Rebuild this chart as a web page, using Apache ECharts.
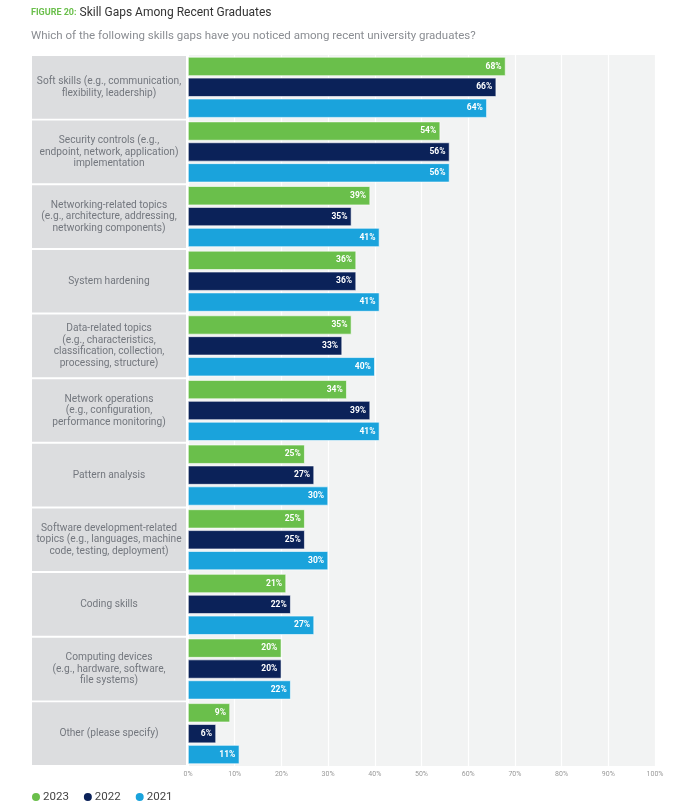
<!DOCTYPE html>
<html>
<head>
<meta charset="utf-8">
<script src="https://cdn.jsdelivr.net/npm/echarts@6/dist/echarts.min.js"></script>
<style>
  html, body { margin: 0; padding: 0; background: #fff; }
  #main { width: 684px; height: 807px; }
</style>
</head>
<body>
<div id="main"></div>
<script>
// 数据
var categories = [
  'Soft skills (e.g., communication,\nflexibility, leadership)',
  'Security controls (e.g.,\nendpoint, network, application)\nimplementation',
  'Networking-related topics\n(e.g., architecture, addressing,\nnetworking components)',
  'System hardening',
  'Data-related topics\n(e.g., characteristics,\nclassification, collection,\nprocessing, structure)',
  'Network operations\n(e.g., configuration,\nperformance monitoring)',
  'Pattern analysis',
  'Software development-related\ntopics (e.g., languages, machine\ncode, testing, deployment)',
  'Coding skills',
  'Computing devices\n(e.g., hardware, software,\nfile systems)',
  'Other (please specify)'
];
var years = ['2023', '2022', '2021'];
var values2023 = [68, 54, 39, 36, 35, 34, 25, 25, 21, 20, 9];
var values2022 = [66, 56, 35, 36, 33, 39, 27, 25, 22, 20, 6];
var values2021 = [64, 56, 41, 41, 40, 41, 30, 30, 27, 22, 11];
var colors = ['#6abf4b', '#0b2259', '#1aa3dc'];

var myChart = echarts.init(document.getElementById('main'));

// 灰色标签列用一个占位柱
var labelFill = categories.map(function () { return 1; });

function yearSeries(name, data, color) {
  return {
    name: name,
    type: 'bar',
    xAxisIndex: 0,
    yAxisIndex: 0,
    data: data,
    barGap: '10%',
    barCategoryGap: '6%',
    itemStyle: { color: color, borderColor: '#ffffff', borderWidth: 0.6 },
    label: {
      show: true,
      position: 'insideRight',
      distance: 4,
      formatter: '{c}%',
      color: '#ffffff',
      fontFamily: 'Roboto',
      fontWeight: 'bold',
      fontSize: 8.5
    }
  };
}

var option = {
  animation: false,
  backgroundColor: '#ffffff',
  title: {
    left: 26,
    top: 2,
    text: '{fig|FIGURE 20:}{main|Skill Gaps Among Recent Graduates}',
    subtext: 'Which of the following skills gaps have you noticed among recent university graduates?',
    itemGap: 11,
    textStyle: {
      fontWeight: 'normal',
      rich: {
        fig: { color: '#6abf4b', fontFamily: 'Roboto', fontWeight: 'bold', fontSize: 9 },
        main: { color: '#333333', fontFamily: 'Roboto', fontWeight: 'normal', fontSize: 12, padding: [0, 0, 0, 3] }
      }
    },
    subtextStyle: { color: '#8a8d92', fontFamily: 'Roboto', fontSize: 11.5 }
  },
  legend: {
    data: years,
    left: 25,
    bottom: -1,
    icon: 'circle',
    itemWidth: 10,
    itemHeight: 10,
    itemGap: 13,
    textStyle: { color: '#444444', fontFamily: 'Roboto', fontSize: 11.5, padding: [0, 0, 0, -3] }
  },
  grid: [
    { left: 188, right: 29, top: 55, bottom: 41, show: true, backgroundColor: '#f2f3f3', borderWidth: 0 },
    { left: 32, width: 154, top: 55, bottom: 41 }
  ],
  xAxis: [
    {
      gridIndex: 0,
      type: 'value',
      min: 0,
      max: 100,
      interval: 10,
      axisLine: { show: false },
      axisTick: { show: false },
      splitLine: { show: true, lineStyle: { color: '#ffffff', width: 1.2 } },
      axisLabel: { formatter: '{value}%', color: '#999999', fontFamily: 'Roboto', fontSize: 7, margin: 5 }
    },
    { gridIndex: 1, type: 'value', min: 0, max: 1, show: false }
  ],
  yAxis: [
    {
      gridIndex: 0,
      type: 'category',
      data: categories,
      inverse: true,
      axisLine: { show: false },
      axisTick: { show: false },
      axisLabel: { show: false },
      splitLine: { show: false }
    },
    {
      gridIndex: 1,
      type: 'category',
      data: categories,
      inverse: true,
      show: false
    }
  ],
  series: [
    yearSeries(years[0], values2023, colors[0]),
    yearSeries(years[1], values2022, colors[1]),
    yearSeries(years[2], values2021, colors[2]),
    {
      name: 'labels',
      type: 'bar',
      xAxisIndex: 1,
      yAxisIndex: 1,
      data: labelFill,
      barCategoryGap: '3%',
      silent: true,
      itemStyle: { color: '#dcdddf' },
      label: {
        show: true,
        position: 'inside',
        formatter: function (p) { return p.name; },
        color: '#73777e',
        fontFamily: 'Roboto',
        fontSize: 10.2,
        lineHeight: 11.5,
        align: 'center'
      }
    }
  ]
};

myChart.setOption(option);
</script>
</body>
</html>
